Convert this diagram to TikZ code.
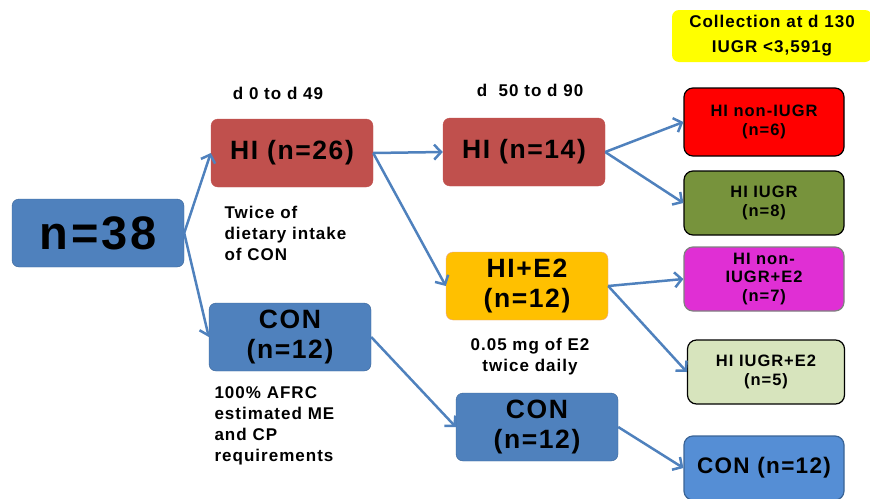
\documentclass[tikz,border=0pt]{standalone}
\usepackage{fontspec}
\setmainfont{Liberation Sans}[LetterSpace=6]
\usetikzlibrary{arrows.meta,positioning}

\definecolor{grpblue}{HTML}{4F81BD}
\definecolor{grpblueline}{HTML}{3A6496}
\definecolor{hired}{HTML}{C0504D}
\definecolor{hiamber}{HTML}{FFC000}
\definecolor{hiambline}{HTML}{E6A3A0}
\definecolor{outred}{HTML}{FF0000}
\definecolor{outolive}{HTML}{77933C}
\definecolor{outmagenta}{HTML}{E02FD4}
\definecolor{outpale}{HTML}{D7E4BD}
\definecolor{outblue}{HTML}{558ED5}
\definecolor{noteyellow}{HTML}{FFFF00}

\begin{document}
\begin{tikzpicture}[x=1pt, y=-1pt,
  group/.style={draw, rounded corners=7pt, minimum width=162pt, minimum height=68pt, align=center, inner sep=2pt, font=\bfseries\fontsize{26.5}{30}\selectfont},
  outcome/.style={draw=black, line width=1.2pt, rounded corners=9pt, minimum width=160pt, minimum height=64pt, align=center, inner sep=2pt, font=\bfseries\fontsize{16.5}{19.5}\selectfont},
  note/.style={align=left, font=\bfseries\fontsize{17}{21}\selectfont},
  flow/.style={draw=grpblue, line width=2.5pt, -{Straight Barb[length=7pt,width=15pt]}}
]
\useasboundingbox (0,0) rectangle (870,498);

% start
\node[group, fill=grpblue, draw=grpblueline, minimum width=172pt, font=\bfseries\fontsize{47}{50}\selectfont] (all) at (98,233) {n=38};

% d 0 to d 49
\node[group, fill=hired, draw=hired] (hi26) at (292,153) {HI (n=26)};
\node[group, fill=grpblue, draw=grpblueline] (con1) at (290,337) {CON\\(n=12)};
\node[note] (p1) at (278,93) {d 0 to d 49};
\node[note, anchor=north west] (diet) at (221,203) {Twice of\\dietary intake\\of CON};
\node[note, anchor=north west] (afrc) at (211,383) {100\% AFRC\\estimated ME\\and CP\\requirements};

% d 50 to d 90
\node[group, fill=hired, draw=hired] (hi14) at (524,152) {HI (n=14)};
\node[group, fill=hiamber, draw=hiambline] (hie2) at (527,286) {HI+E2\\(n=12)};
\node[group, fill=grpblue, draw=grpblueline] (con2) at (537,427) {CON\\(n=12)};
\node[note] (p2) at (530,90) {d\ \ 50 to d 90};
\node[note, align=center] (dose) at (530,357) {0.05 mg of E2\\twice daily};

% collection
\node[fill=noteyellow, rounded corners=7pt, minimum width=200pt, minimum height=52pt, align=center, font=\bfseries\fontsize{17}{25}\selectfont] (coll) at (772,36) {Collection at d 130\\IUGR <3,591g};
\node[outcome, fill=outred, minimum height=68pt] (noniugr) at (764,122) {HI non-IUGR\\(n=6)};
\node[outcome, fill=outolive] (iugr) at (764,203) {HI IUGR\\(n=8)};
\node[outcome, fill=outmagenta, draw=gray, font=\bfseries\fontsize{16.5}{18.5}\selectfont] (nonie2) at (764,279) {HI non-\\IUGR+E2\\(n=7)};
\node[outcome, fill=outpale, minimum width=157pt] (iugre2) at (766,372) {HI IUGR+E2\\(n=5)};
\node[outcome, fill=outblue, draw=grpblueline, font=\bfseries\fontsize{22.5}{26}\selectfont] (con3) at (764,468) {CON (n=12)};

\draw[flow] (all.east) -- (hi26.west);
\draw[flow] (all.east) -- (con1.west);
\draw[flow] (hi26.east) -- (hi14.west);
\draw[flow] (hi26.east) -- (hie2.west);
\draw[flow] (con1.east) -- (con2.west);
\draw[flow] (hi14.east) -- (noniugr.west);
\draw[flow] (hi14.east) -- (iugr.west);
\draw[flow] (hie2.east) -- (nonie2.west);
\draw[flow] (hie2.east) -- (iugre2.west);
\draw[flow] (con2.east) -- (con3.west);
\end{tikzpicture}
\end{document}
